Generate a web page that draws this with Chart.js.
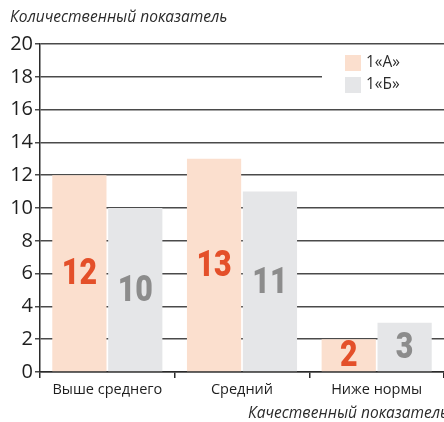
<!DOCTYPE html>
<html>
<head>
<meta charset="utf-8">
<script src="https://cdn.jsdelivr.net/npm/chart.js@4"></script>
<style>
  html, body { margin: 0; padding: 0; background: #fff; }
  #wrap { width: 444px; height: 422px; }
</style>
</head>
<body>
<div id="wrap"><canvas id="myChart" width="444" height="422"></canvas></div>
<script>
let categories = ['Выше среднего', 'Средний', 'Ниже нормы'];
let seriesNames = ['1«А»', '1«Б»'];
let valuesA = [12, 13, 2];
let valuesB = [10, 11, 3];
let yTicks = [0, 2, 4, 6, 8, 10, 12, 14, 16, 18, 20];

let barColors = ['#fbdfce', '#e5e6e8'];
let labelColors = ['#e4502a', '#8c8c8c'];

let ctx = document.getElementById('myChart').getContext('2d');

// value labels in the middle of each bar + axis titles + legend box
let extrasPlugin = {
    id: 'extras',
    afterDatasetsDraw: function (chart) {
        let c = chart.ctx;
        chart.data.datasets.forEach(function (ds, di) {
            let meta = chart.getDatasetMeta(di);
            meta.data.forEach(function (el, i) {
                let midY = (el.y + el.base) / 2;
                c.save();
                c.translate(el.x, midY);
                c.scale(0.82, 1);
                c.font = '900 37px Roboto';
                c.fillStyle = labelColors[di];
                c.textAlign = 'center';
                c.textBaseline = 'middle';
                c.fillText(String(ds.data[i]), 0, 2);
                c.restore();
            });
        });
    },
    afterDraw: function (chart) {
        let c = chart.ctx;
        c.save();
        // axis titles
        c.font = 'italic 15.5px "Open Sans"';
        c.fillStyle = '#2b2b2b';
        c.textAlign = 'left';
        c.textBaseline = 'alphabetic';
        c.fillText('Количественный показатель', 10, 22);
        c.fillText('Качественный показатель', 248, 418);

        // legend with white backing
        c.fillStyle = '#ffffff';
        c.fillRect(322, 46, 122, 61);
        chart.data.datasets.forEach(function (ds, di) {
            let y = 55 + di * 22;
            c.fillStyle = barColors[di];
            c.fillRect(345, y, 16, 16);
            c.fillStyle = '#2b2b2b';
            c.font = '15.5px "Open Sans"';
            c.textBaseline = 'middle';
            c.fillText(ds.label, 366, y + 8);
        });
        c.restore();
    }
};

let myChart = new Chart(ctx, {
    type: 'bar',
    data: {
        labels: categories,
        datasets: [
            { label: seriesNames[0], data: valuesA, backgroundColor: barColors[0] },
            { label: seriesNames[1], data: valuesB, backgroundColor: barColors[1] }
        ]
    },
    options: {
        responsive: false,
        animation: false,
        layout: { padding: { top: 44, right: 0, bottom: 0, left: 0 } },
        datasets: {
            bar: { categoryPercentage: 0.83, barPercentage: 0.97 }
        },
        plugins: {
            legend: { display: false },
            tooltip: { enabled: false }
        },
        scales: {
            x: {
                afterFit: function (s) { s.height = 50; },
                border: { color: '#2b2b2b', width: 1.5 },
                grid: {
                    drawOnChartArea: false,
                    drawTicks: true,
                    tickLength: 6,
                    color: '#2b2b2b',
                    lineWidth: 1.5
                },
                ticks: {
                    color: '#1e1e1e',
                    padding: 3,
                    font: { family: 'Open Sans', size: 14.5 }
                }
            },
            y: {
                min: 0,
                max: 20,
                afterFit: function (s) { s.width = 40; },
                afterBuildTicks: function (s) {
                    s.ticks = yTicks.map(function (v) { return { value: v }; });
                },
                border: { color: '#2b2b2b', width: 1.5 },
                grid: {
                    color: '#4a4a4a',
                    lineWidth: 1.5,
                    tickLength: 5
                },
                ticks: {
                    color: '#1e1e1e',
                    padding: 2,
                    font: { family: 'Open Sans', size: 20 }
                }
            }
        }
    },
    plugins: [extrasPlugin]
});
</script>
</body>
</html>
